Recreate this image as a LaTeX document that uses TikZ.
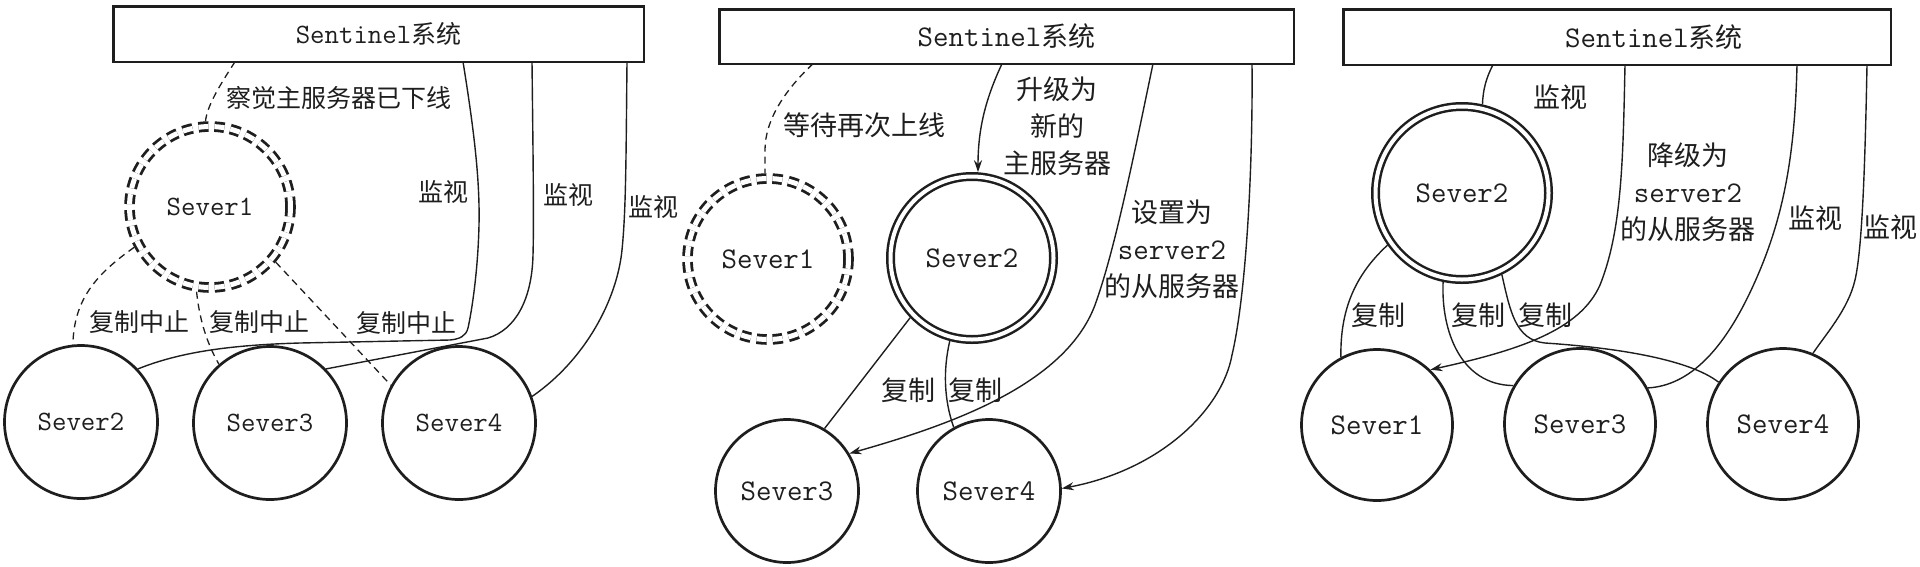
\documentclass[tikz,border=0pt]{standalone}
\usepackage{fontspec}
\usetikzlibrary{arrows.meta}
\newfontfamily\cjkf{Noto Sans CJK SC}
\newcommand\monof{\ttfamily}
\definecolor{ink}{RGB}{30,30,30}
\begin{document}
\begin{tikzpicture}[x=1pt,y=-1pt,color=ink,
  box/.style={draw, line width=2.5pt, inner sep=0pt, outer sep=0pt},
  srv/.style={circle, draw, line width=2.7pt, inner sep=0pt, outer sep=1.35pt},
  master/.style={circle, draw, double, double distance=4pt, line width=2.5pt, inner sep=0pt, outer sep=4.5pt},
  downsrv/.style={circle, draw, dash pattern=on 10pt off 6pt, double, double distance=5pt, line width=2.8pt, inner sep=0pt, outer sep=5.3pt},
  conn/.style={line width=1.4pt},
  dconn/.style={line width=1.3pt, dash pattern=on 7pt off 5pt},
  arr/.style={conn, -{Stealth[length=12pt,width=8pt]}},
  fa/.style={font=\cjkf\fontsize{25}{37}\selectfont},
  fb/.style={font=\cjkf\fontsize{27}{37}\selectfont},
  ma/.style={font=\monof\fontsize{28}{30}\selectfont},
  mb/.style={font=\monof\fontsize{30}{32}\selectfont},
  ta/.style={font=\fontsize{25}{30}\selectfont},
  tb/.style={font=\fontsize{27}{30}\selectfont},
]
\useasboundingbox (0,0) rectangle (1920,566);

% ---------------- Panel 1 ----------------
\node[box, ta, minimum width=530.5pt, minimum height=55.5pt] (b1) at (378.5,34) {{\monof\fontsize{28}{30}\selectfont Sentinel}{\cjkf 系统}};
\node[downsrv, minimum size=161pt, ma] (a1) at (210,207) {Sever1};
\node[srv, minimum size=153pt, ma] (a2) at (81,422) {Sever2};
\node[srv, minimum size=153pt, ma] (a3) at (270,423) {Sever3};
\node[srv, minimum size=153pt, ma] (a4) at (459,423) {Sever4};

\node[fa] (la0) at (339,98) {察觉主服务器已下线};
\node[fa] (la1) at (443,192) {监视};
\node[fa] (la2) at (568,195) {监视};
\node[fa] (la3) at (653,207) {监视};
\node[fa] (la4) at (139,322) {复制中止};
\node[fa] (la5) at (259,322) {复制中止};
\node[fa] (la6) at (406,323) {复制中止};

\draw[dconn] ([xshift=121.75pt]b1.south west) .. controls (222,82) and (207,105) .. (a1.93);
\draw[conn] ([xshift=349.75pt]b1.south west) .. controls (474,130) and (480,180) .. (479,225) .. controls (478,270) and (472,310) .. (468,328) .. controls (466,336) and (460,339) .. (450,340) -- (300,343) .. controls (230,345) and (180,352) .. (a2.43);
\draw[conn] ([xshift=418.75pt]b1.south west) .. controls (533,150) and (534,220) .. (533,255) .. controls (532,300) and (515,330) .. (488,338) -- (a3.44);
\draw[conn] ([xshift=513.75pt]b1.south west) .. controls (626,160) and (626,210) .. (622,250) .. controls (617,300) and (585,360) .. (a4.20);
\draw[dconn] (a1.208) .. controls (95,275) and (74,300) .. (a2.96);
\draw[dconn] (a1.261) .. controls (199,315) and (205,340) .. (a3.131);
\draw[dconn] (a1.320) -- (a4.151);

% ---------------- Panel 2 ----------------
\node[box, tb, minimum width=574.5pt, minimum height=54.5pt] (b2) at (1006.5,36.5) {{\monof\fontsize{30}{30}\selectfont Sentinel}{\cjkf 系统}};
\node[downsrv, minimum size=161pt, mb] (c1) at (768,259) {Sever1};
\node[master, minimum size=163pt, mb] (c2) at (972,258) {Sever2};
\node[srv, minimum size=143pt, mb] (c3) at (787,491) {Sever3};
\node[srv, minimum size=143pt, mb] (c4) at (989,491) {Sever4};

\node[fb] (lc0) at (864,125) {等待再次上线};
\node[fb, align=center] (lc1) at (1057,126) {升级为\\新的\\主服务器};
\node[fb, align=center] (lc2) at (1172,249) {设置为\\{\monof\fontsize{30}{37}\selectfont server2}\\的从服务器};
\node[fb] (lc3) at (908,390) {复制};
\node[fb] (lc4) at (975,390) {复制};

\draw[dconn] ([xshift=93.75pt]b2.south west) .. controls (785,90) and (765,120) .. (765,150) -- (c1.92);
\draw[arr] ([xshift=282.75pt]b2.south west) .. controls (985,100) and (978,130) .. (c2.86);
\draw[arr] ([xshift=433.75pt]b2.south west) .. controls (1135,150) and (1115,250) .. (1095,305) .. controls (1065,385) and (950,425) .. (c3.31);
\draw[arr] ([xshift=532.75pt]b2.south west) .. controls (1253,180) and (1245,300) .. (1232,355) .. controls (1222,410) and (1160,470) .. (c4.2);
\draw[conn] (c2.224) -- (c3.59);
\draw[conn] (c2.255) .. controls (943,370) and (944,400) .. (c4.119);

% ---------------- Panel 3 ----------------
\node[box, tb, minimum width=547.5pt, minimum height=55.5pt] (b3) at (1617,37) {\hspace*{74pt}{\monof\fontsize{30}{30}\selectfont Sentinel}{\cjkf 系统}};
\node[master, minimum size=173pt, mb] (d2) at (1462,193) {Sever2};
\node[srv, minimum size=151pt, mb] (d1) at (1377,425) {Sever1};
\node[srv, minimum size=151pt, mb] (d3) at (1580,424) {Sever3};
\node[srv, minimum size=151pt, mb] (d4) at (1783,424) {Sever4};

\node[fb] (ld0) at (1560,97) {监视};
\node[fb, align=center] (ld1) at (1688,192) {降级为\\{\monof\fontsize{30}{37}\selectfont server2}\\的从服务器};
\node[fb] (ld2) at (1815,218) {监视};
\node[fb] (ld3) at (1890,227) {监视};
\node[fb] (ld4) at (1378,315) {复制};
\node[fb] (ld5) at (1478,315) {复制};
\node[fb] (ld6) at (1545,315) {复制};

\draw[conn] ([xshift=149.75pt]b3.south west) .. controls (1486,78) and (1483,90) .. (d2.77);
\draw[arr] ([xshift=281.75pt]b3.south west) .. controls (1623,160) and (1622,230) .. (1600,285) .. controls (1580,330) and (1520,350) .. (d1.46);
\draw[conn] ([xshift=453.75pt]b3.south west) .. controls (1795,150) and (1785,210) .. (1760,270) .. controls (1735,330) and (1700,385) .. (d3.28);
\draw[conn] ([xshift=523.75pt]b3.south west) .. controls (1865,170) and (1862,250) .. (1855,280) .. controls (1848,310) and (1825,335) .. (d4.67);
\draw[conn] (d2.215) .. controls (1355,275) and (1340,310) .. (d1.118);
\draw[conn] (d2.258) .. controls (1441,330) and (1460,385) .. (d3.150);
\draw[conn] (d2.296) .. controls (1510,310) and (1515,340) .. (1545,343) .. controls (1620,348) and (1690,360) .. (d4.147);
\end{tikzpicture}
\end{document}
